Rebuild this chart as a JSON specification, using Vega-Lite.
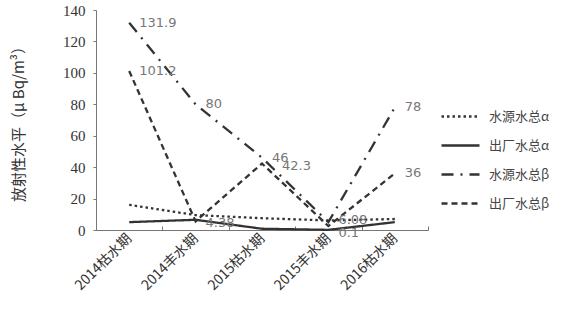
{
  "$schema": "https://vega.github.io/schema/vega-lite/v6.json",
  "autosize": "none",
  "width": 332,
  "height": 220,
  "padding": {"left": 96, "top": 10, "right": 159, "bottom": 79},
  "background": "white",
  "config": {"view": {"stroke": null}},
  "datasets": {
    "lines": [
      {"period": "2014枯水期", "series": "水源水总α", "value": 16},
      {"period": "2014丰水期", "series": "水源水总α", "value": 9.5},
      {"period": "2015枯水期", "series": "水源水总α", "value": 7.5},
      {"period": "2015丰水期", "series": "水源水总α", "value": 6.08},
      {"period": "2016枯水期", "series": "水源水总α", "value": 7},
      {"period": "2014枯水期", "series": "出厂水总α", "value": 5},
      {"period": "2014丰水期", "series": "出厂水总α", "value": 6.5},
      {"period": "2015枯水期", "series": "出厂水总α", "value": 0.8},
      {"period": "2015丰水期", "series": "出厂水总α", "value": 0.1},
      {"period": "2016枯水期", "series": "出厂水总α", "value": 5},
      {"period": "2014枯水期", "series": "水源水总β", "value": 131.9},
      {"period": "2014丰水期", "series": "水源水总β", "value": 80},
      {"period": "2015枯水期", "series": "水源水总β", "value": 46},
      {"period": "2015丰水期", "series": "水源水总β", "value": 5},
      {"period": "2016枯水期", "series": "水源水总β", "value": 78},
      {"period": "2014枯水期", "series": "出厂水总β", "value": 101.2},
      {"period": "2014丰水期", "series": "出厂水总β", "value": 5.5},
      {"period": "2015枯水期", "series": "出厂水总β", "value": 42.3},
      {"period": "2015丰水期", "series": "出厂水总β", "value": 2.5},
      {"period": "2016枯水期", "series": "出厂水总β", "value": 36}
    ],
    "labels": [
      {"period": "2014枯水期", "value": 131.9, "label": "131.9"},
      {"period": "2014枯水期", "value": 101.2, "label": "101.2"},
      {"period": "2014丰水期", "value": 80, "label": "80"},
      {"period": "2014丰水期", "value": 4.38, "label": "4.38"},
      {"period": "2015枯水期", "value": 46, "label": "46"},
      {"period": "2015丰水期", "value": 6.08, "label": "6.08"},
      {"period": "2016枯水期", "value": 78, "label": "78"},
      {"period": "2016枯水期", "value": 36, "label": "36"}
    ],
    "labels2": [
      {"period": "2015枯水期", "value": 42.3, "label": "42.3"}
    ],
    "labels3": [
      {"period": "2015丰水期", "value": 0.1, "label": "0.1"}
    ]
  },
  "encoding": {
    "x": {
      "field": "period", "type": "nominal",
      "sort": ["2014枯水期", "2014丰水期", "2015枯水期", "2015丰水期", "2016枯水期"],
      "scale": {"paddingInner": 0, "paddingOuter": 0},
      "axis": {
        "title": null, "labelAngle": -45, "labelAlign": "right", "labelBaseline": "middle",
        "labelFont": "Noto Sans CJK SC", "labelFontSize": 14, "labelColor": "#333",
        "labelPadding": 10, "domainColor": "#777", "tickColor": "#777",
        "tickBand": "extent", "tickSize": -4, "grid": false
      }
    },
    "y": {
      "field": "value", "type": "quantitative",
      "scale": {"domain": [0, 140], "nice": false},
      "axis": {
        "title": "放射性水平（μ Bq/m³）", "titleFont": "Noto Sans CJK SC", "titleFontWeight": "normal",
        "titleFontSize": 15, "titleColor": "#333", "titleX": -78, "titleY": 110,
        "titleAngle": -90, "titleAlign": "center", "titleBaseline": "middle",
        "values": [0, 20, 40, 60, 80, 100, 120, 140],
        "labelFont": "Liberation Serif", "labelFontSize": 15, "labelColor": "#333",
        "labelPadding": 8, "ticks": true, "tickSize": 3, "tickColor": "#777", "grid": false, "domainColor": "#777"
      }
    }
  },
  "layer": [
    {
      "data": {"name": "lines"},
      "mark": {"type": "line", "strokeWidth": 2.3, "color": "#333"},
      "encoding": {
        "strokeDash": {
          "field": "series", "type": "nominal",
          "scale": {
            "domain": ["水源水总α", "出厂水总α", "水源水总β", "出厂水总β"],
            "range": [[2.5, 3], [1, 0], [12, 7, 2, 7], [6, 4]]
          },
          "legend": {
            "title": null, "orient": "none", "legendX": 344, "legendY": 86,
            "symbolType": "stroke", "symbolSize": 1444, "symbolStrokeWidth": 2.3,
            "symbolStrokeColor": "#333", "rowPadding": 1,
            "labelFont": "Noto Sans CJK SC", "labelFontSize": 13, "labelColor": "#444",
            "labelOffset": 8
          }
        }
      }
    },
    {
      "data": {"name": "labels"},
      "mark": {"type": "text", "align": "left", "baseline": "middle", "dx": 10, "fontSize": 13, "font": "DejaVu Sans", "color": "#777"},
      "encoding": {"text": {"field": "label"}}
    },
    {
      "data": {"name": "labels2"},
      "mark": {"type": "text", "align": "left", "baseline": "middle", "dx": 20, "dy": 2, "fontSize": 13, "font": "DejaVu Sans", "color": "#777"},
      "encoding": {"text": {"field": "label"}}
    },
    {
      "data": {"name": "labels3"},
      "mark": {"type": "text", "align": "left", "baseline": "middle", "dx": 10, "dy": 3, "fontSize": 13, "font": "DejaVu Sans", "color": "#777"},
      "encoding": {"text": {"field": "label"}}
    }
  ]
}
